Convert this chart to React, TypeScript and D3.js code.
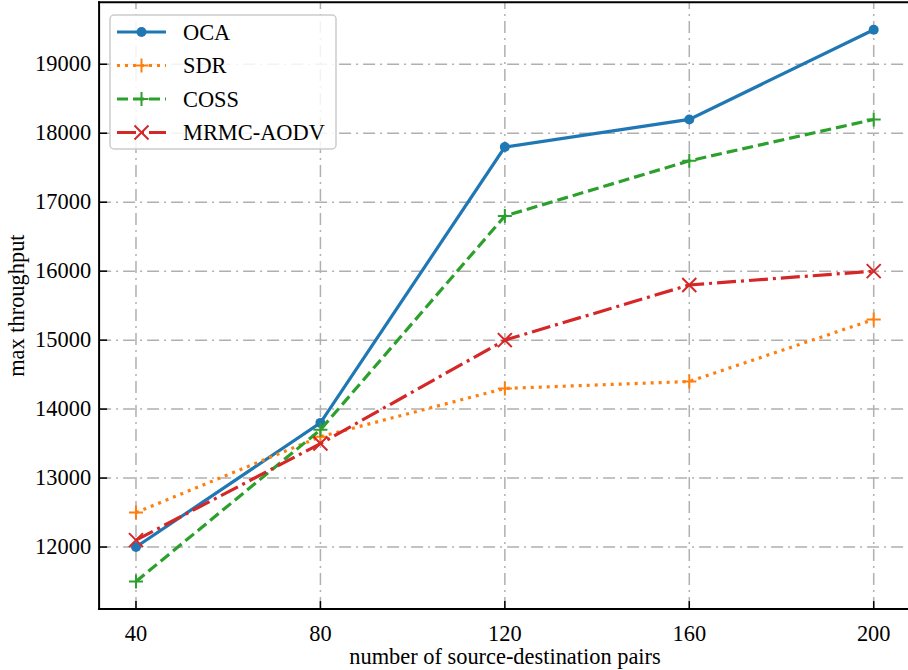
import React from 'react'
import * as d3 from 'd3'

const pairs = [40, 80, 120, 160, 200]
const ocaValues = [12000, 13800, 17800, 18200, 19500]
const sdrValues = [12500, 13600, 14300, 14400, 15300]
const cossValues = [11500, 13700, 16800, 17600, 18200]
const mrmcValues = [12100, 13500, 15000, 15800, 16000]
const yTicks = [12000, 13000, 14000, 15000, 16000, 17000, 18000, 19000]

const seriesNames = ['OCA', 'SDR', 'COSS', 'MRMC-AODV']
const seriesColors = ['#1f77b4', '#ff7f0e', '#2ca02c', '#d62728']
const seriesDashes = ['none', '3,5', '11,5', '19,5,3,5']
const seriesMarkers = ['circle', 'plus', 'plus', 'x']
const seriesValues = [ocaValues, sdrValues, cossValues, mrmcValues]

const width = 908
const height = 670
const font = "'Liberation Serif'"

const x = d3.scaleLinear().domain([32, 208]).range([99.1, 910.6])
const y = d3.scaleLinear().domain([11100, 19900]).range([609.1, 2.2])

function Marker({ kind, cx, cy, color }: { kind: string, cx: number, cy: number, color: string }) {
  if (kind === 'circle') return <circle cx={cx} cy={cy} r={5} fill={color} />
  const s = 7
  if (kind === 'plus') {
    return <path d={`M${cx - s},${cy}H${cx + s}M${cx},${cy - s}V${cy + s}`} stroke={color} strokeWidth={2} fill="none" />
  }
  return <path d={`M${cx - s},${cy - s}L${cx + s},${cy + s}M${cx - s},${cy + s}L${cx + s},${cy - s}`} stroke={color} strokeWidth={2} fill="none" />
}

export default function App() {
  const line = d3.line<number>()
    .x((_, i) => x(pairs[i]))
    .y(v => y(v))

  const left = x.range()[0]
  const bottom = y.range()[0]
  const top = y.range()[1]
  const right = x.range()[1]
  const txt = { fontFamily: font, fontSize: 22.4 }

  return (
    <svg width={width} height={height} style={{ position: 'absolute', left: 0, top: 0, background: '#fff' }}>
      {/* grid */}
      <g stroke="#b0b0b0" strokeWidth={1.5} strokeDasharray="12,5,2,5">
        {pairs.map(p => <line key={'gx' + p} x1={x(p)} x2={x(p)} y1={bottom} y2={top} />)}
        {yTicks.map(t => <line key={'gy' + t} x1={left} x2={right} y1={y(t)} y2={y(t)} />)}
      </g>

      {/* series */}
      {seriesValues.map((vals, si) => (
        <g key={seriesNames[si]}>
          <path d={line(vals) || ''} fill="none" stroke={seriesColors[si]} strokeWidth={3.2}
            strokeDasharray={seriesDashes[si]} />
          {vals.map((v, i) => (
            <Marker key={i} kind={seriesMarkers[si]} cx={x(pairs[i])} cy={y(v)} color={seriesColors[si]} />
          ))}
        </g>
      ))}

      {/* spines */}
      <g stroke="#000" strokeWidth={2} fill="none">
        <line x1={left} x2={left} y1={bottom + 1} y2={top - 1} />
        <line x1={left - 1} x2={right} y1={bottom} y2={bottom} />
        <line x1={left - 1} x2={right} y1={top} y2={top} />
        <line x1={right} x2={right} y1={bottom} y2={top} />
      </g>

      {/* ticks */}
      <g stroke="#000" strokeWidth={1.5}>
        {pairs.map(p => <line key={'tx' + p} x1={x(p)} x2={x(p)} y1={bottom} y2={bottom - 8} />)}
        {yTicks.map(t => <line key={'ty' + t} x1={left} x2={left + 8} y1={y(t)} y2={y(t)} />)}
      </g>
      <g fill="#000">
        {pairs.map(p => (
          <text key={'lx' + p} x={x(p)} y={bottom + 32} textAnchor="middle" style={txt}>{p}</text>
        ))}
        {yTicks.map(t => (
          <text key={'ly' + t} x={left - 8} y={y(t) + 7} textAnchor="end" style={txt}>{t}</text>
        ))}
      </g>

      <text x={505} y={664} textAnchor="middle" style={txt}>number of source-destination pairs</text>
      <text transform={`translate(24,${(top + bottom) / 2}) rotate(-90)`} textAnchor="middle" style={txt}>max throughput</text>

      {/* legend */}
      <g>
        <rect x={110} y={15} width={226} height={134} rx={4} fill="#fff" fillOpacity={0.85} stroke="#cccccc" strokeWidth={1.5} />
        {seriesNames.map((name, i) => {
          const cy = 32 + i * 33.5
          return (
            <g key={name}>
              <line x1={117} x2={166} y1={cy} y2={cy} stroke={seriesColors[i]} strokeWidth={3.2} strokeDasharray={seriesDashes[i]} />
              <Marker kind={seriesMarkers[i]} cx={141.5} cy={cy} color={seriesColors[i]} />
              <text x={183} y={cy + 7.5} style={txt}>{name}</text>
            </g>
          )
        })}
      </g>
    </svg>
  )
}
